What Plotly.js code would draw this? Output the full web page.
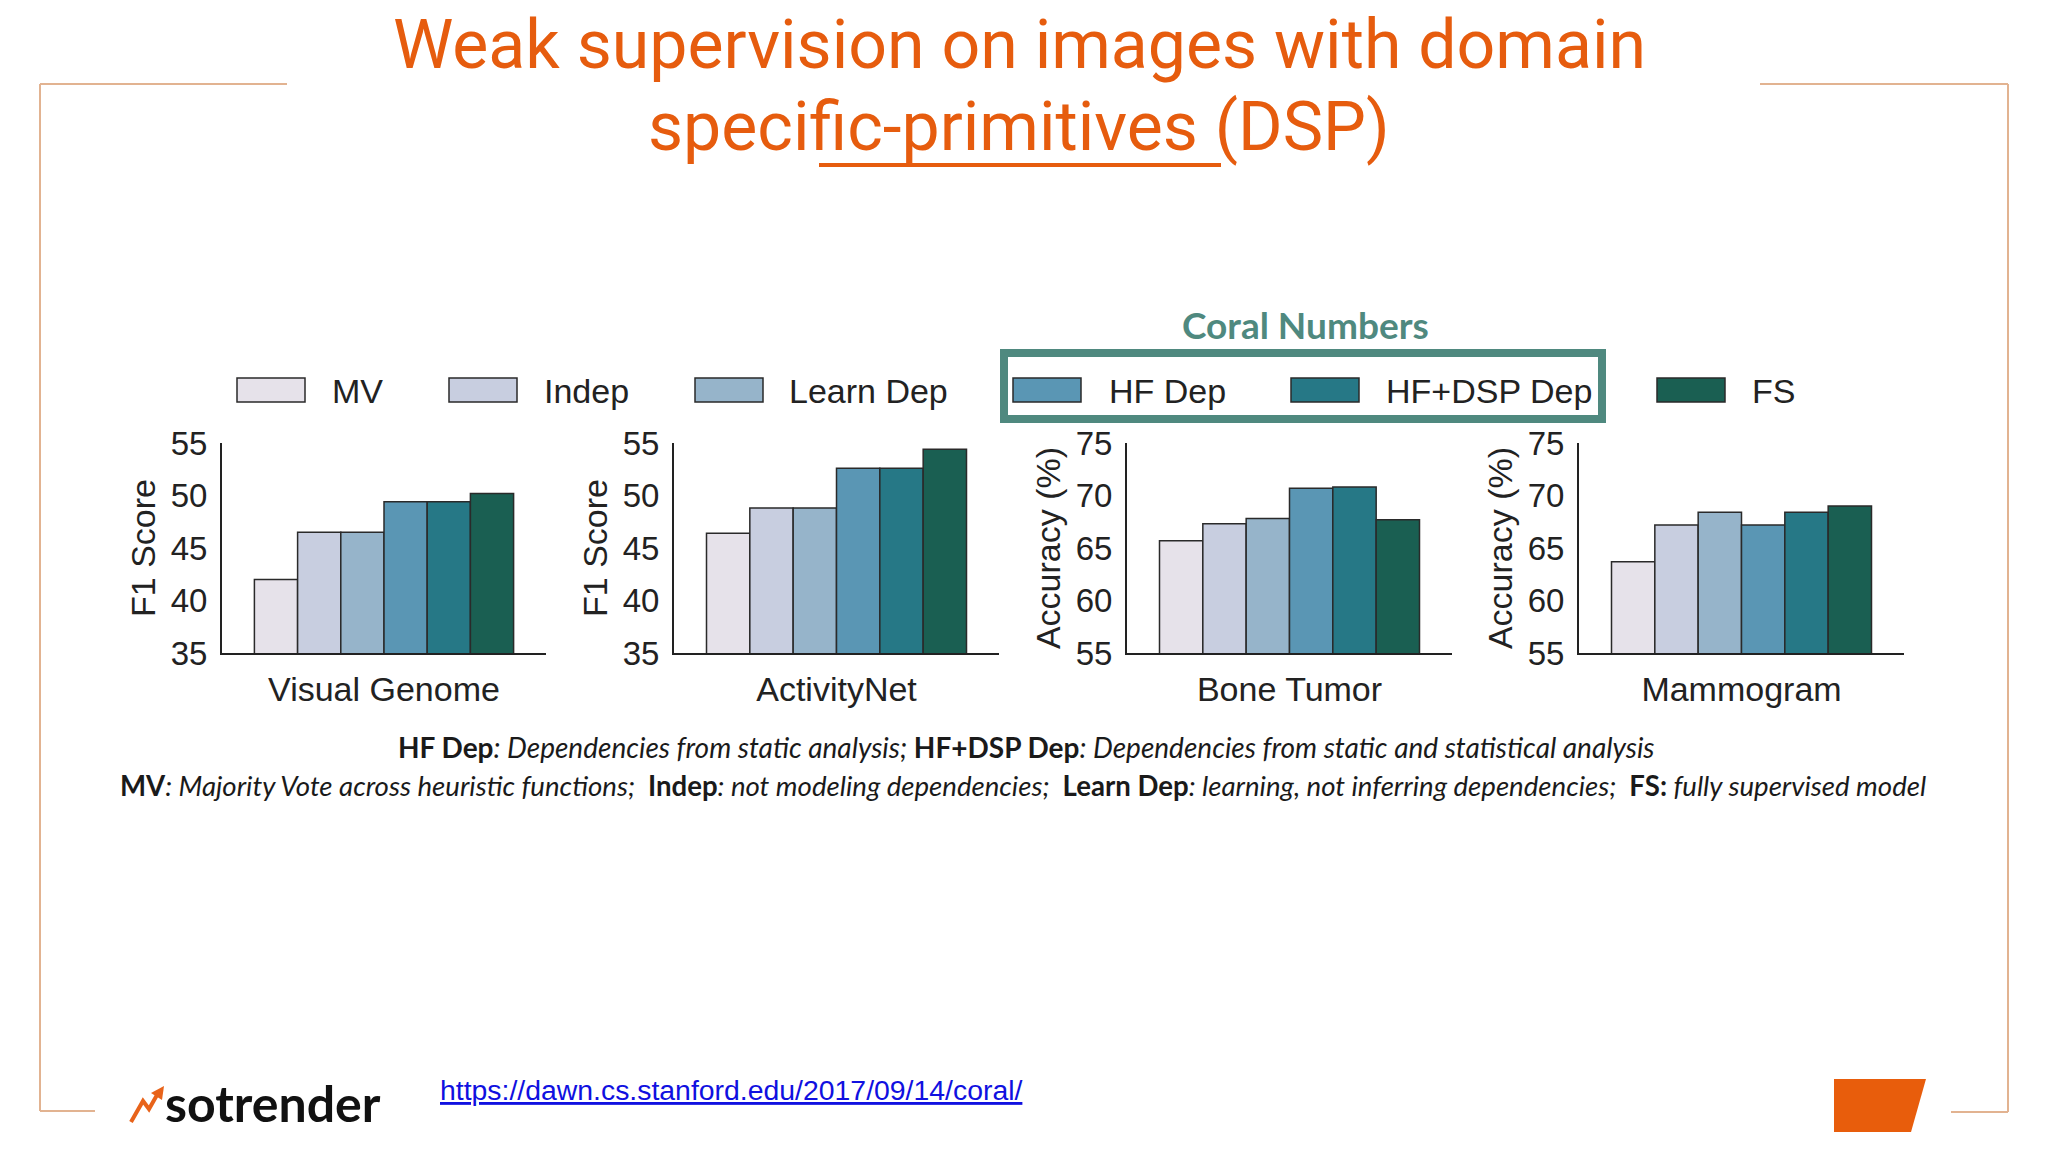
<!DOCTYPE html>
<html>
<head>
<meta charset="utf-8">
<script src="https://cdn.plot.ly/plotly-3.0.1.min.js"></script>
<style>
  html, body { margin: 0; padding: 0; background: #ffffff; }
  #chart { width: 2048px; height: 1152px; }
</style>
</head>
<body>
<div id="chart"></div>
<script>
// ---------------- DATA ----------------
const datasets = ['Visual Genome', 'ActivityNet', 'Bone Tumor', 'Mammogram'];
const methods = ['MV', 'Indep', 'Learn Dep', 'HF Dep', 'HF+DSP Dep', 'FS'];
const visualGenome = [42.0, 46.5, 46.5, 49.4, 49.4, 50.2];
const activityNet  = [46.4, 48.8, 48.8, 52.6, 52.6, 54.4];
const boneTumor    = [65.7, 67.3, 67.8, 70.7, 70.8, 67.7];
const mammogram    = [63.7, 67.2, 68.4, 67.2, 68.4, 69.0];
const yTitles = ['F1 Score', 'F1 Score', 'Accuracy (%)', 'Accuracy (%)'];
const yRanges = [[35, 55], [35, 55], [55, 75], [55, 75]];
const yTicksF1 = [35, 40, 45, 50, 55];
const yTicksAcc = [55, 60, 65, 70, 75];
const highlightTitle = 'Coral Numbers';
const footLine1 = [['HF Dep', 'Dependencies from static analysis; '], ['HF+DSP Dep', 'Dependencies from static and statistical analysis']];
const footLine2 = [['MV', 'Majority Vote across heuristic functions;  '], ['Indep', 'not modeling dependencies;  '], ['Learn Dep', 'learning, not inferring dependencies;  '], ['FS:', ' fully supervised model']];
const titleLine1 = 'Weak supervision on images with domain';
const titleLine2 = 'specific-primitives (DSP)';
const sourceUrl = 'https://dawn.cs.stanford.edu/2017/09/14/coral/';
const brand = 'sotrender';

// ---------------- STYLE ----------------
const colors = ['#e6e2ea', '#c8cee0', '#96b4ca', '#5a96b4', '#267886', '#1a5f52'];
const seriesByDataset = [visualGenome, activityNet, boneTumor, mammogram];
const yTickSets = [yTicksF1, yTicksF1, yTicksAcc, yTicksAcc];

const W = 2048, H = 1152;
const px = x => x / W;
const py = y => 1 - y / H;

const fam = 'Liberation Sans, Arial, sans-serif';
const axisFont = {family: fam, size: 34, color: '#222222'};
const yTickFont = {family: fam, size: 33, color: '#222222'};
const panelLeft = [222, 674, 1127, 1579];
const panelRight = [546, 999, 1452, 1904];
const plotTop = 443, plotBottom = 653;

const traces = [];
const layout = {
  width: W, height: H,
  margin: {l: 0, r: 0, t: 0, b: 0, pad: 0},
  paper_bgcolor: '#ffffff', plot_bgcolor: 'rgba(0,0,0,0)',
  showlegend: false,
  barmode: 'group', bargap: 0.2, bargroupgap: 0,
  shapes: [], annotations: []
};

datasets.forEach((ds, i) => {
  const n = i === 0 ? '' : String(i + 1);
  methods.forEach((m, j) => {
    traces.push({
      type: 'bar', name: m, x: [ds], y: [seriesByDataset[i][j]],
      xaxis: 'x' + n, yaxis: 'y' + n,
      marker: {color: colors[j], line: {color: '#2a2a2a', width: 1.5}},
      hoverinfo: 'skip'
    });
  });
  layout['xaxis' + n] = {
    domain: [px(panelLeft[i]), px(panelRight[i])], anchor: 'y' + n,
    type: 'category', showline: true, linecolor: '#222222', linewidth: 2,
    ticks: '', showgrid: false, zeroline: false, tickfont: axisFont,
    ticklabelstandoff: 5, fixedrange: true
  };
  layout['yaxis' + n] = {
    domain: [py(plotBottom), py(plotTop)], anchor: 'x' + n,
    range: yRanges[i], tickvals: yTickSets[i], showline: true,
    linecolor: '#222222', linewidth: 2, ticks: '', showgrid: false,
    zeroline: false, tickfont: yTickFont, ticklabelstandoff: 6,
    title: {text: yTitles[i], font: axisFont, standoff: 5}, fixedrange: true
  };
});

// ---------------- LEGEND (manual) ----------------
const swatchLeft = [237, 449, 695, 1013, 1291, 1657];
const textLeft = [330, 542, 787, 1107, 1384, 1750];
methods.forEach((m, j) => {
  layout.shapes.push({type: 'rect', xref: 'paper', yref: 'paper',
    x0: px(swatchLeft[j]), x1: px(swatchLeft[j] + 68), y0: py(402), y1: py(378),
    fillcolor: colors[j], line: {color: '#2a2a2a', width: 1.5}});
  layout.annotations.push({xref: 'paper', yref: 'paper', x: px(textLeft[j]), y: py(391),
    xanchor: 'left', yanchor: 'middle', showarrow: false, text: m, font: axisFont});
});
// highlight box
layout.shapes.push({type: 'rect', xref: 'paper', yref: 'paper',
  x0: px(1004), x1: px(1602), y0: py(419), y1: py(353),
  line: {color: '#4f897f', width: 8}, fillcolor: 'rgba(0,0,0,0)'});
layout.annotations.push({xref: 'paper', yref: 'paper', x: px(1305), y: py(324),
  xanchor: 'center', yanchor: 'middle', showarrow: false, text: '<b>' + highlightTitle + '</b>',
  font: {family: 'Lato, sans-serif', size: 37, color: '#4f897f'}});

// ---------------- TITLE ----------------
const orange = '#e65c0e';
layout.annotations.push({xref: 'paper', yref: 'paper', x: px(1019), y: py(45),
  xanchor: 'center', yanchor: 'middle', showarrow: false, text: titleLine1,
  font: {family: 'Roboto, sans-serif', size: 68, color: orange}});
layout.annotations.push({xref: 'paper', yref: 'paper', x: px(1019), y: py(127),
  xanchor: 'center', yanchor: 'middle', showarrow: false, text: titleLine2,
  font: {family: 'Roboto, sans-serif', size: 68, color: orange}});
layout.shapes.push({type: 'line', xref: 'paper', yref: 'paper',
  x0: px(819), x1: px(1221), y0: py(165), y1: py(165), line: {color: orange, width: 4}});

// ---------------- FOOTNOTES ----------------
const footText = parts => parts.map(p => '<b>' + p[0] + '</b><i>' + (p[0].endsWith(':') ? '' : ':') + ' ' + p[1].replace(/^ /, '') + '</i>').join('');
layout.annotations.push({xref: 'paper', yref: 'paper', x: px(1026), y: py(747),
  xanchor: 'center', yanchor: 'middle', showarrow: false, text: footText(footLine1),
  font: {family: 'Lato, sans-serif', size: 28, color: '#1a1a1a'}});
layout.annotations.push({xref: 'paper', yref: 'paper', x: px(1023), y: py(785),
  xanchor: 'center', yanchor: 'middle', showarrow: false, text: footText(footLine2),
  font: {family: 'Lato, sans-serif', size: 27.6, color: '#1a1a1a'}});

// ---------------- FRAME ----------------
const frame = '#e2b391';
const fl = (x0, y0, x1, y1) => layout.shapes.push({type: 'line', xref: 'paper', yref: 'paper',
  x0: px(x0), y0: py(y0), x1: px(x1), y1: py(y1), line: {color: frame, width: 2}});
fl(40, 84, 287, 84); fl(40, 84, 40, 1111); fl(40, 1111, 95, 1111);
fl(1760, 84, 2008, 84); fl(2008, 84, 2008, 1112); fl(1951, 1112, 2008, 1112);

// orange parallelogram
layout.shapes.push({type: 'path', xref: 'paper', yref: 'paper',
  path: `M${px(1834)},${py(1079)} L${px(1926)},${py(1079)} L${px(1911)},${py(1132)} L${px(1834)},${py(1132)} Z`,
  fillcolor: '#e85d0c', line: {width: 0}});

// ---------------- FOOTER ----------------
layout.annotations.push({xref: 'paper', yref: 'paper', x: px(438), y: py(1090),
  xanchor: 'left', yanchor: 'middle', showarrow: false,
  text: '<span style="text-decoration:underline">' + sourceUrl + '</span>',
  font: {family: 'Liberation Sans, Arial, sans-serif', size: 28.4, color: '#1010e0'}});
layout.annotations.push({xref: 'paper', yref: 'paper', x: px(163), y: py(1103),
  xanchor: 'left', yanchor: 'middle', showarrow: false, text: '<b>' + brand + '</b>',
  font: {family: 'Lato, sans-serif', size: 50, color: '#111111', weight: 900}});
// logo arrow
layout.shapes.push({type: 'path', xref: 'paper', yref: 'paper',
  path: `M${px(131)},${py(1122)} L${px(143)},${py(1101)} L${px(149)},${py(1109)} L${px(157)},${py(1095)}`,
  line: {color: '#e8631a', width: 4}});
layout.shapes.push({type: 'path', xref: 'paper', yref: 'paper',
  path: `M${px(151)},${py(1093)} L${px(164)},${py(1086)} L${px(162)},${py(1100)} Z`,
  fillcolor: '#e8631a', line: {width: 0}});

Plotly.newPlot('chart', traces, layout, {displayModeBar: false, staticPlot: true});
</script>
</body>
</html>
